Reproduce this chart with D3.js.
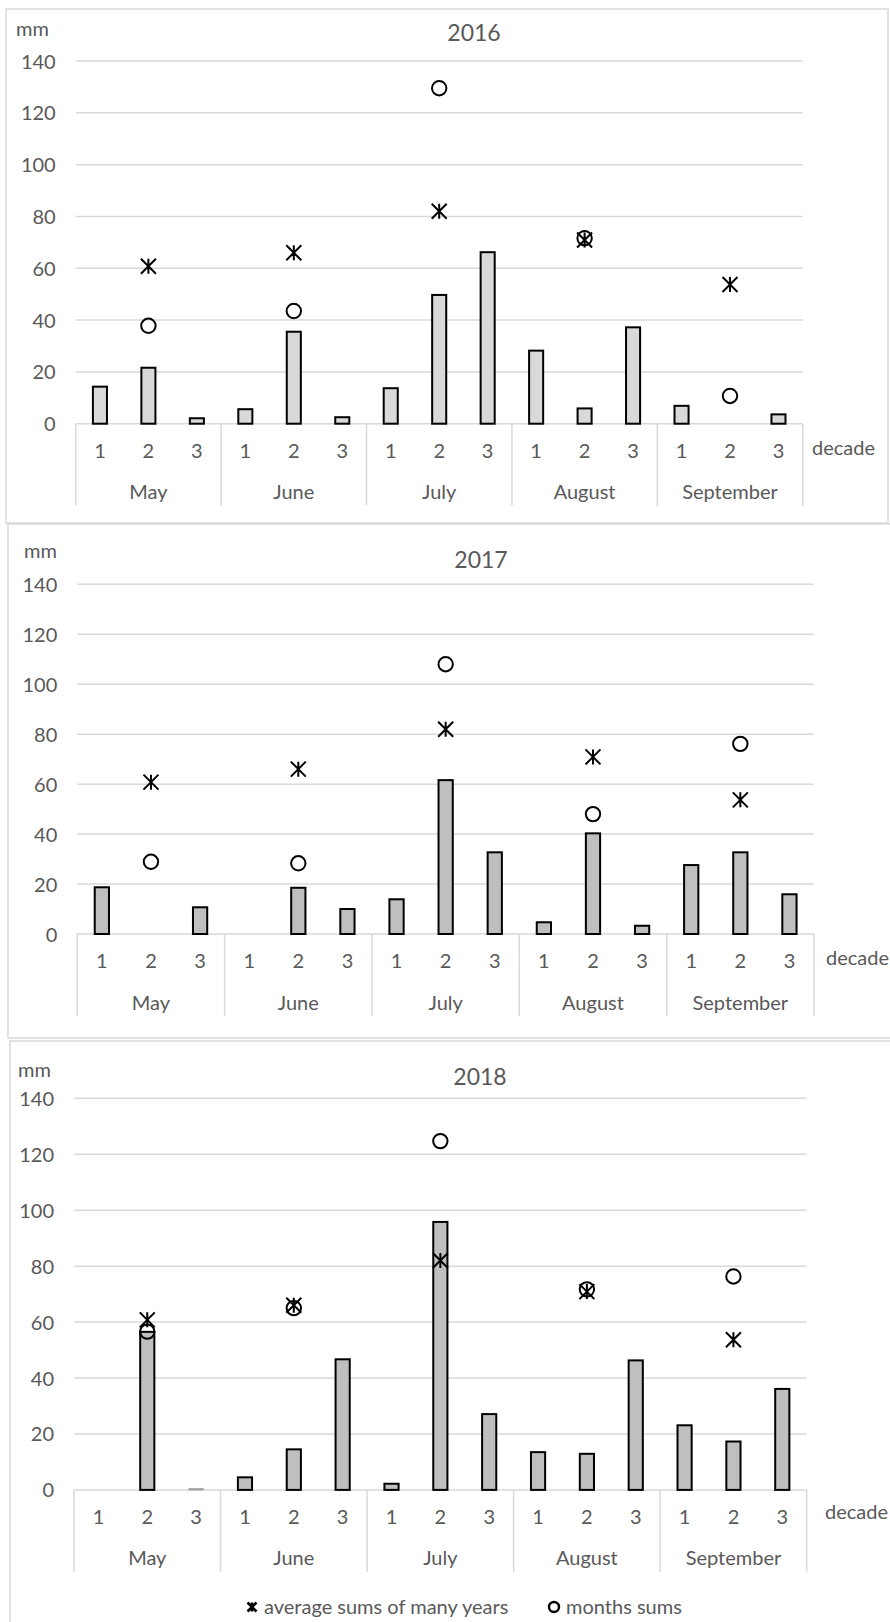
<!DOCTYPE html>
<html>
<head>
<meta charset="utf-8">
<script src="https://cdn.jsdelivr.net/npm/d3@7"></script>
<style>
  body { margin: 0; background: #fff; }
  svg text { font-family: Lato, "Open Sans", sans-serif; fill: #595959; }
</style>
</head>
<body>
<div id="chart"></div>
<script>
// ---------------------------------------------
// ---------           Data          -----------
// ---------------------------------------------

var months = ["May", "June", "July", "August", "September"];
var decades = ["1", "2", "3"];
var yTicks = [0, 20, 40, 60, 80, 100, 120, 140];
var years = ["2016", "2017", "2018"];

// decade sums of precipitation, mm (May 1..3, June 1..3, ...)
var decadeSums2016 = [14.3, 21.6, 2.1, 5.6, 35.5, 2.5, 13.7, 49.7, 66.2, 28.2, 5.9, 37.2, 6.9, 0, 3.6];
var decadeSums2017 = [18.7, 0, 10.7, 0, 18.5, 10.0, 13.9, 61.6, 32.7, 4.7, 40.3, 3.3, 27.6, 32.7, 15.9];
var decadeSums2018 = [0, 56.5, 0.4, 4.5, 14.5, 46.7, 2.2, 95.8, 27.1, 13.5, 12.9, 46.3, 23.1, 17.3, 36.1];

// month sums of the year
var monthSums2016 = [37.8, 43.5, 129.5, 71.6, 10.7];
var monthSums2017 = [28.9, 28.3, 108.0, 48.0, 76.1];
var monthSums2018 = [56.6, 65.0, 124.7, 71.7, 76.3];

// average month sums of many years
var averageSums = [60.8, 66.0, 82.0, 70.9, 53.7];

var legendLabels = ["average sums of many years", "months sums"];

// ---------------------------------------------
// ---------         Layout          -----------
// ---------------------------------------------

var width = 890, height = 1622;
var gridColor = "#d9d9d9";
var fontSize = 20;

var panels = [
  { year: years[0], bars: decadeSums2016, sums: monthSums2016, fill: "#d9d9d9",
    box: [6, 9, 888, 523], left: 75.7, right: 802.7, top: 61, bottom: 423.7,
    titleX: 474, titleY: 33, mmX: 16, mmY: 29, decadeX: 812, decadeY: 448 },
  { year: years[1], bars: decadeSums2017, sums: monthSums2017, fill: "#bfbfbf",
    box: [8, 524, 896, 1038], left: 77.3, right: 814, top: 584.3, bottom: 934,
    titleX: 481, titleY: 560, mmX: 24, mmY: 551, decadeX: 826, decadeY: 958 },
  { year: years[2], bars: decadeSums2018, sums: monthSums2018, fill: "#bfbfbf",
    box: [10, 1041, 896, 1630], left: 74, right: 806.7, top: 1098.3, bottom: 1489.9,
    titleX: 480, titleY: 1077, mmX: 18, mmY: 1070, decadeX: 825, decadeY: 1512 }
];

// asterisk marker: X plus vertical line
function asterisk(s) {
  return "M" + (-s) + "," + (-s) + "L" + s + "," + s +
         "M" + (-s) + "," + s + "L" + s + "," + (-s) +
         "M0," + (-s) + "L0," + s;
}

var svg = d3.select("#chart")
  .append("svg")
    .attr("width", width)
    .attr("height", height);

// category keys like "May-1"
var keys = [];
months.forEach(function (m) {
  decades.forEach(function (d) { keys.push(m + "-" + d); });
});

panels.forEach(function (p) {

  var g = svg.append("g");

  // panel border
  g.append("rect")
    .attr("x", p.box[0])
    .attr("y", p.box[1])
    .attr("width", p.box[2] - p.box[0])
    .attr("height", p.box[3] - p.box[1])
    .attr("fill", "none")
    .attr("stroke", gridColor)
    .attr("stroke-width", 1.5);

  var x = d3.scaleBand().domain(keys).range([p.left, p.right]).padding(0);
  var y = d3.scaleLinear().domain([0, 140]).range([p.bottom, p.top]);

  // gridlines
  g.append("g")
    .selectAll("line")
    .data(yTicks)
    .join("line")
      .attr("x1", p.left)
      .attr("x2", p.right)
      .attr("y1", function (d) { return y(d); })
      .attr("y2", function (d) { return y(d); })
      .attr("stroke", gridColor)
      .attr("stroke-width", 1.5);

  // Y AXIS labels
  var yAxis = g.append("g")
    .attr("transform", "translate(" + (p.left - 20) + ",0)")
    .call(d3.axisLeft(y).tickValues(yTicks).tickSize(0).tickPadding(0));
  yAxis.select(".domain").remove();
  yAxis.selectAll("text")
    .attr("font-size", fontSize)
    .attr("font-family", null)
    .attr("dy", "0.35em");

  // X AXIS: decades
  var xAxis = g.append("g")
    .attr("transform", "translate(0," + p.bottom + ")")
    .call(d3.axisBottom(x).tickSize(0).tickFormat(function (d) { return d.split("-")[1]; }));
  xAxis.select(".domain").remove();
  xAxis.selectAll("text")
    .attr("font-size", fontSize)
    .attr("font-family", null)
    .attr("y", 27)
    .attr("dy", "0.35em");

  // month group separators
  var groupEdges = [];
  months.forEach(function (m) { groupEdges.push(x(m + "-1")); });
  groupEdges.push(p.right);
  g.append("g")
    .selectAll("line")
    .data(groupEdges)
    .join("line")
      .attr("x1", function (d) { return d; })
      .attr("x2", function (d) { return d; })
      .attr("y1", p.bottom)
      .attr("y2", p.bottom + 82)
      .attr("stroke", gridColor)
      .attr("stroke-width", 1.5);

  // month labels
  g.append("g")
    .selectAll("text")
    .data(months)
    .join("text")
      .attr("x", function (m) { return x(m + "-2") + x.bandwidth() / 2; })
      .attr("y", p.bottom + 68.5)
      .attr("dy", "0.35em")
      .attr("text-anchor", "middle")
      .attr("font-size", fontSize)
      .text(function (m) { return m; });

  // bars
  var barW = x.bandwidth() * 0.29;
  g.append("g")
    .selectAll("rect")
    .data(p.bars.map(function (v, i) { return { key: keys[i], value: v }; })
                .filter(function (d) { return d.value > 0; }))
    .join("rect")
      .attr("x", function (d) { return x(d.key) + (x.bandwidth() - barW) / 2; })
      .attr("y", function (d) { return y(d.value); })
      .attr("width", barW)
      .attr("height", function (d) { return y(0) - y(d.value); })
      .attr("fill", p.fill)
      .attr("stroke", function (d) { return d.value < 1 ? "#999" : "#000"; })
      .attr("stroke-width", function (d) { return d.value < 1 ? 1 : 2; });

  // average sums (asterisks)
  g.append("g")
    .selectAll("path")
    .data(averageSums)
    .join("path")
      .attr("transform", function (v, i) {
        return "translate(" + (x(months[i] + "-2") + x.bandwidth() / 2) + "," + y(v) + ")";
      })
      .attr("d", asterisk(7.5))
      .attr("fill", "none")
      .attr("stroke", "#000")
      .attr("stroke-width", 2);

  // month sums (circles)
  g.append("g")
    .selectAll("circle")
    .data(p.sums)
    .join("circle")
      .attr("cx", function (v, i) { return x(months[i] + "-2") + x.bandwidth() / 2; })
      .attr("cy", function (v) { return y(v); })
      .attr("r", 7.2)
      .attr("fill", "none")
      .attr("stroke", "#000")
      .attr("stroke-width", 2);

  // title, unit, axis name
  g.append("text")
    .attr("x", p.titleX)
    .attr("y", p.titleY)
    .attr("dy", "0.35em")
    .attr("text-anchor", "middle")
    .attr("font-size", 23)
    .text(p.year);

  g.append("text")
    .attr("x", p.mmX)
    .attr("y", p.mmY)
    .attr("dy", "0.35em")
    .attr("font-size", fontSize)
    .text("mm");

  g.append("text")
    .attr("x", p.decadeX)
    .attr("y", p.decadeY)
    .attr("dy", "0.35em")
    .attr("font-size", fontSize)
    .text("decade");
});

// ---------------------------------------------
// ---------          Legend          ----------
// ---------------------------------------------

var legendY = 1607;
var legend = svg.append("g");

legend.append("path")
  .attr("transform", "translate(252," + legendY + ")")
  .attr("d", asterisk(4.5))
  .attr("fill", "none")
  .attr("stroke", "#000")
  .attr("stroke-width", 2.6);

legend.append("text")
  .attr("x", 264)
  .attr("y", legendY)
  .attr("dy", "0.35em")
  .attr("font-size", fontSize)
  .text(legendLabels[0]);

legend.append("circle")
  .attr("cx", 554)
  .attr("cy", legendY)
  .attr("r", 5)
  .attr("fill", "none")
  .attr("stroke", "#000")
  .attr("stroke-width", 2.4);

legend.append("text")
  .attr("x", 566)
  .attr("y", legendY)
  .attr("dy", "0.35em")
  .attr("font-size", fontSize)
  .text(legendLabels[1]);
</script>
</body>
</html>
